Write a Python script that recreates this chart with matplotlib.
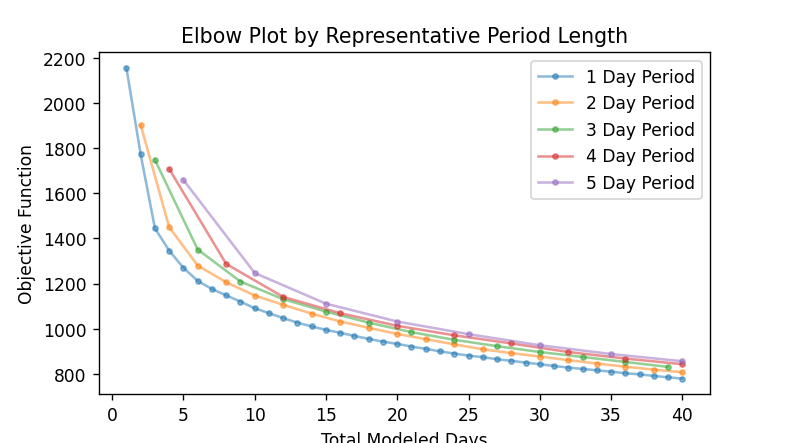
import matplotlib
matplotlib.use("Agg")
from matplotlib import pyplot as plt

# Objective function values, one list per period length
days_1 = list(range(1, 41))
obj_1 = [2155, 1772, 1445, 1346, 1270, 1212, 1176, 1148, 1120, 1091,
         1069, 1047, 1027, 1010, 995, 982, 968, 955, 943, 933,
         921, 911, 900, 890, 881, 874, 865, 858, 850, 843,
         835, 828, 822, 816, 810, 803, 798, 791, 785, 779]

days_2 = list(range(2, 41, 2))
obj_2 = [1903, 1450, 1280, 1206, 1147, 1106, 1067, 1032, 1004, 977,
         954, 931, 909, 892, 877, 861, 846, 832, 819, 807]

days_3 = list(range(3, 40, 3))
obj_3 = [1748, 1351, 1209, 1131, 1076, 1027, 985, 951, 923, 897, 875, 853, 831]

days_4 = list(range(4, 41, 4))
obj_4 = [1708, 1287, 1141, 1069, 1013, 971, 935, 897, 868, 843]

days_5 = list(range(5, 41, 5))
obj_5 = [1659, 1247, 1111, 1032, 976, 927, 888, 856]

periodLabels = ["1 Day Period", "2 Day Period", "3 Day Period", "4 Day Period", "5 Day Period"]
allDays = [days_1, days_2, days_3, days_4, days_5]
allObj = [obj_1, obj_2, obj_3, obj_4, obj_5]

dpi = 789 / 6.4
figure, axis = plt.subplots(figsize=(6.4, 3.6), dpi=dpi)
for days, obj, label in zip(allDays, allObj, periodLabels):
    axis.plot(days, obj, marker=".", alpha=0.5, label=label)

axis.set(xlabel="Total Modeled Days", ylabel="Objective Function")
axis.set_title("Elbow Plot by Representative Period Length")
axis.legend(loc="upper right")

figure.savefig("out.png", dpi=dpi)
